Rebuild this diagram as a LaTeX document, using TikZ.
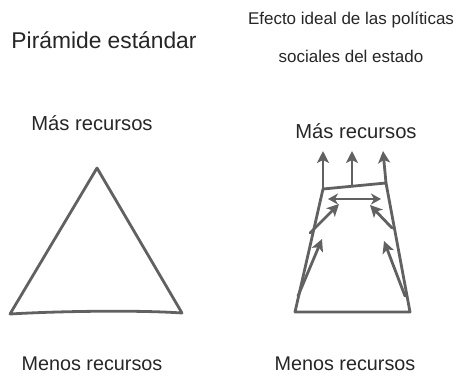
\documentclass[tikz,border=0pt]{standalone}
\usepackage{fontspec}
\setmainfont{Liberation Sans}
\usetikzlibrary{arrows.meta}
\begin{document}
\begin{tikzpicture}[x=1pt,y=-1pt,
  sk/.style={draw=black!62, line width=2.8pt, line join=round, line cap=round},
  ar/.style={sk, -{Stealth[length=12pt,width=12pt,inset=3pt]}},
  dar/.style={sk, {Stealth[length=10pt,width=11pt,inset=3pt]}-{Stealth[length=10pt,width=11pt,inset=3pt]}},
  lbl/.style={inner sep=0pt, text=black!85}]
\useasboundingbox (0,0) rectangle (462,381);
% titles
\node[lbl, font=\fontsize{22.8}{26}\selectfont] (t1) at (104,40) {Pirámide estándar};
\node[lbl, font=\fontsize{17}{20}\selectfont] (t2) at (351,20) {Efecto ideal de las políticas};
\node[lbl, font=\fontsize{17}{20}\selectfont] (t3) at (351,56) {sociales del estado};
\node[lbl, font=\fontsize{20.2}{23}\selectfont] (m1) at (92,123) {Más recursos};
\node[lbl, font=\fontsize{20.2}{23}\selectfont] (m2) at (356,131) {Más recursos};
\node[lbl, font=\fontsize{19.8}{23}\selectfont] (l1) at (92,364) {Menos recursos};
\node[lbl, font=\fontsize{19.8}{23}\selectfont] (l2) at (345,364) {Menos recursos};
% left triangle
\coordinate (A) at (97,168);
\coordinate (B) at (10,314);
\coordinate (C) at (182,313);
\draw[sk] (A) -- (B) .. controls (60,311) and (140,310) .. (C) -- (A);
% trapezoid
\coordinate (P1) at (295,312);
\coordinate (P2) at (410,312);
\coordinate (P3) at (386,183);
\coordinate (P4) at (323,189);
\draw[sk] (P1) -- (P2) -- (P3) -- (P4) -- cycle;
% upward arrows
\coordinate (U1) at (323,151);
\coordinate (U2b) at (352,186);
\coordinate (U2) at (352,151);
\coordinate (U3) at (383,151);
\draw[ar] (P4) -- (U1);
\draw[ar] (U2b) -- (U2);
\draw[ar] (P3) -- (U3);
% horizontal double arrow
\coordinate (H1) at (328,199);
\coordinate (H2) at (381,199);
\draw[dar] (H1) -- (H2);
% inner arrows
\coordinate (a1s) at (310,233); \coordinate (a1e) at (339,204);
\coordinate (a2s) at (298,296); \coordinate (a2e) at (322,239);
\coordinate (a3s) at (392,228); \coordinate (a3e) at (370,205);
\coordinate (a4s) at (405,296); \coordinate (a4e) at (384,241);
\draw[ar] (a1s) -- (a1e);
\draw[ar] (a2s) -- (a2e);
\draw[ar] (a3s) -- (a3e);
\draw[ar] (a4s) -- (a4e);
\end{tikzpicture}
\end{document}
